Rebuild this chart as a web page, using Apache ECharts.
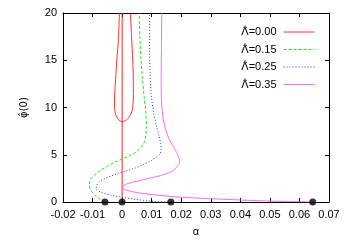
<!DOCTYPE html>
<html><head><meta charset="utf-8">
<script src="https://cdn.jsdelivr.net/npm/echarts@6/dist/echarts.min.js"></script>
<style>html,body{margin:0;padding:0;background:#fff}#c{width:346px;height:242px}</style>
</head><body><div id="c"></div>
<script>
const seriesNames = ['\u039B\u0302=0.00', '\u039B\u0302=0.15', '\u039B\u0302=0.25', '\u039B\u0302=0.35'];
const xTicks = [-0.02, -0.01, 0, 0.01, 0.02, 0.03, 0.04, 0.05, 0.06, 0.07];
const yTicks = [0, 5, 10, 15, 20];

// Lambda = 0.00 : trivial branch (alpha = 0) and closed loop
const redLineAlpha = [0, 0];
const redLinePhi = [0, 20];
const redLoopAlpha = [-0.0009, -0.0013, -0.0018, -0.0022, -0.0025, -0.0026, -0.0025, -0.0021, -0.0013, 0, 0.0011, 0.0022, 0.0031, 0.0036, 0.0038, 0.0038, 0.0036, 0.0032, 0.0028];
const redLoopPhi = [20, 17, 15, 13, 11.5, 10.5, 9.8, 9.2, 8.75, 8.5, 8.6, 8.9, 9.4, 10, 11, 13, 15, 17.5, 20];

// Lambda = 0.15
const greenAlpha = [-0.0058, -0.0075, -0.0092, -0.0105, -0.0111, -0.0108, -0.0095, -0.0075, -0.005, -0.0025, 0, 0.0025, 0.0048, 0.0065, 0.0075, 0.008, 0.0082, 0.008, 0.0075, 0.0069, 0.0064, 0.006, 0.0058];
const greenPhi = [0, 0.3, 0.7, 1.2, 1.7, 2.3, 2.8, 3.3, 3.8, 4.2, 4.55, 4.9, 5.3, 5.8, 6.3, 7, 8, 9.5, 11, 13, 15, 17.5, 20];

// Lambda = 0.25
const blueAlpha = [0.0165, 0.012, 0.008, 0.004, 0, -0.004, -0.0072, -0.0088, -0.0085, -0.0075, -0.005, -0.002, 0.001, 0.0045, 0.0075, 0.0105, 0.0125, 0.0132, 0.013, 0.0125, 0.0115, 0.0105, 0.0098, 0.0095, 0.0093, 0.0093];
const bluePhi = [0, 0.05, 0.15, 0.3, 0.5, 0.75, 1.05, 1.4, 1.8, 2.2, 2.6, 2.95, 3.25, 3.6, 4.0, 4.5, 5.0, 5.5, 6.2, 7, 8.2, 9.8, 11.5, 13.5, 16, 20];

// Lambda = 0.35
const magentaAlpha = [0.0645, 0.055, 0.045, 0.035, 0.025, 0.018, 0.012, 0.006, 0.002, 0.0003, 0.0005, 0.002, 0.005, 0.009, 0.013, 0.0165, 0.0185, 0.0195, 0.019, 0.0178, 0.0165, 0.0152, 0.0142, 0.0136, 0.0133, 0.0132, 0.0133, 0.0134];
const magentaPhi = [0, 0.06, 0.15, 0.28, 0.42, 0.55, 0.72, 0.95, 1.2, 1.45, 1.7, 1.95, 2.2, 2.5, 2.8, 3.2, 3.7, 4.3, 4.9, 5.6, 6.3, 7.2, 8.3, 9.5, 11, 13, 16, 20];

// bifurcation points on the alpha axis
const dotAlpha = [-0.0058, 0, 0.0165, 0.0645];
const dotPhi = [0, 0, 0, 0];

const zip = (a, b) => a.map((v, i) => [v, b[i]]);
const FONT = 'Liberation Sans, Arial, sans-serif';
const fmtX = v => Math.abs(v) < 1e-9 ? '0' : v.toFixed(2);

const xBase = {
  type: 'value', min: xTicks[0], max: xTicks[xTicks.length - 1], interval: xTicks[1] - xTicks[0],
  splitLine: { show: false },
  axisLine: { show: true, onZero: false, lineStyle: { color: '#000', width: 1 } },
  axisTick: { show: true, inside: true, length: 4, lineStyle: { color: '#000' } }
};
const yBase = {
  type: 'value', min: yTicks[0], max: yTicks[yTicks.length - 1], interval: yTicks[1] - yTicks[0],
  splitLine: { show: false },
  axisLine: { show: true, onZero: false, lineStyle: { color: '#000', width: 1 } },
  axisTick: { show: true, inside: true, length: 4, lineStyle: { color: '#000' } }
};

// legend label: capital Lambda with a hat drawn as a raised caret centred over it
const legendLabel = n => '{L|\u039B}{h|^}{t|' + n.slice(2) + '}';

const chart = echarts.init(document.getElementById('c'), null, { renderer: 'canvas' });
chart.setOption({
  animation: false,
  backgroundColor: '#fff',
  textStyle: { fontFamily: FONT },
  grid: { left: 63, right: 17, top: 13, bottom: 38, containLabel: false },
  legend: {
    data: seriesNames,
    orient: 'vertical', align: 'right', right: 31, top: 24, padding: 0,
    itemWidth: 31, itemHeight: 10, itemGap: 4,
    itemStyle: { color: 'transparent', borderWidth: 0, opacity: 0 },
    lineStyle: { width: 1 },
    formatter: legendLabel,
    textStyle: { fontFamily: FONT, fontSize: 11, color: '#000', padding: [0, 2, 0, 0],
      rich: {
        L: { fontFamily: FONT, fontSize: 11, color: '#000', width: 0, align: 'left', lineHeight: 16 },
        h: { fontFamily: FONT, fontSize: 8, color: '#000', width: 7.3, align: 'center', verticalAlign: 'top', lineHeight: 6 },
        t: { fontFamily: FONT, fontSize: 11, color: '#000', lineHeight: 16 }
      } },
    selectedMode: false
  },
  xAxis: [
    Object.assign({}, xBase, {
      position: 'bottom', name: '\u03B1', nameLocation: 'middle', nameGap: 24,
      nameTextStyle: { fontFamily: FONT, fontSize: 11, color: '#000' },
      axisLabel: { show: true, formatter: fmtX, margin: 7, fontFamily: FONT, fontSize: 11, color: '#000' }
    }),
    Object.assign({}, xBase, { position: 'top', axisLabel: { show: false } })
  ],
  yAxis: [
    Object.assign({}, yBase, {
      position: 'left', name: '\u03C6\u0302(0)', nameLocation: 'middle', nameGap: 34, nameRotate: 90,
      nameTextStyle: { fontFamily: 'DejaVu Sans', fontSize: 10, color: '#000' },
      axisLabel: { show: true, margin: 6, fontFamily: FONT, fontSize: 11, color: '#000' }
    }),
    Object.assign({}, yBase, { position: 'right', axisLabel: { show: false } })
  ],
  series: [
    { name: 'trivial', type: 'line', data: zip(redLineAlpha, redLinePhi), symbol: 'none',
      lineStyle: { color: '#ff2020', width: 1 }, itemStyle: { color: '#ff2020' } },
    { name: seriesNames[0], type: 'line', data: zip(redLoopAlpha, redLoopPhi), symbol: 'none', smooth: 0.3,
      lineStyle: { color: '#ff3030', width: 1 }, itemStyle: { color: '#ff3030' } },
    { name: seriesNames[1], type: 'line', data: zip(greenAlpha, greenPhi), symbol: 'none', smooth: 0.3,
      lineStyle: { color: '#20e020', width: 1, type: [3, 2] }, itemStyle: { color: '#20e020' } },
    { name: seriesNames[2], type: 'line', data: zip(blueAlpha, bluePhi), symbol: 'none', smooth: 0.3,
      lineStyle: { color: '#3030ff', width: 1, type: [1, 2] }, itemStyle: { color: '#3030ff' } },
    { name: seriesNames[3], type: 'line', data: zip(magentaAlpha, magentaPhi), symbol: 'none', smooth: 0.3,
      lineStyle: { color: '#ff66ff', width: 1 }, itemStyle: { color: '#ff66ff' } },
    { name: 'points', type: 'scatter', data: zip(dotAlpha, dotPhi), symbol: 'circle', symbolSize: 7,
      clip: false, itemStyle: { color: '#000' }, z: 5 }
  ]
});
</script>
</body></html>
